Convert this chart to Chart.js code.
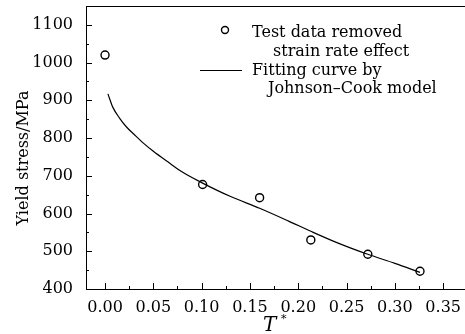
<!DOCTYPE html>
<html>
<head>
<meta charset="utf-8">
<script src="https://cdn.jsdelivr.net/npm/chart.js@4.4.0/dist/chart.umd.min.js"></script>
<style>
  html, body { margin: 0; padding: 0; background: #fff; }
  #wrap { width: 465px; height: 334px; }
</style>
</head>
<body>
<div id="wrap"><canvas id="jcChart" width="465" height="334"></canvas></div>
<script>
// measured points (strain rate effect removed)
const tStar = [0.00, 0.101, 0.160, 0.213, 0.272, 0.326];
const testStress = [1020, 677, 642, 530, 492, 447];

// Johnson-Cook fitted curve
const fitT = [0.003, 0.008, 0.015, 0.022, 0.030, 0.040, 0.050, 0.065, 0.080, 0.100, 0.130, 0.160, 0.190, 0.213, 0.240, 0.272, 0.300, 0.326];
const fitStress = [917, 882, 853, 830, 810, 786, 765, 737, 710, 682, 645, 614, 580, 553, 523, 492, 468, 444];

const xTickValues = [0, 0.05, 0.10, 0.15, 0.20, 0.25, 0.30, 0.35];
const yTickValues = [400, 500, 600, 700, 800, 900, 1000, 1100];

const legendLabels = [
    ['Test data removed', 'strain rate effect'],
    ['Fitting curve by', 'Johnson\u2013Cook model']
];
const yTitle = 'Yield stress/MPa';

const serif = '"DejaVu Serif", serif';

// inward ticks, open frame lines, axis titles and the legend
const framePlugin = {
    id: 'frame',
    afterDraw(chart) {
        const ctx = chart.ctx;
        const a = chart.chartArea;
        const xs = chart.scales.x, ys = chart.scales.y;
        ctx.save();
        ctx.strokeStyle = '#000';
        ctx.lineWidth = 1;
        ctx.beginPath();
        ctx.moveTo(a.left, a.top + 0.5);
        ctx.lineTo(465, a.top + 0.5);
        ctx.moveTo(a.right - 1, a.bottom + 0.5);
        ctx.lineTo(465, a.bottom + 0.5);
        // x ticks
        xTickValues.forEach(v => {
            const px = Math.round(xs.getPixelForValue(v)) + 0.5;
            ctx.moveTo(px, a.bottom); ctx.lineTo(px, a.bottom - 6);
            const pm = Math.round(xs.getPixelForValue(v + 0.025)) + 0.5;
            if (v + 0.025 < xs.max) { ctx.moveTo(pm, a.bottom); ctx.lineTo(pm, a.bottom - 3); }
        });
        // y ticks
        yTickValues.forEach(v => {
            const py = Math.round(ys.getPixelForValue(v)) + 0.5;
            ctx.moveTo(a.left, py); ctx.lineTo(a.left + 6, py);
            const pm = Math.round(ys.getPixelForValue(v + 50)) + 0.5;
            if (v + 50 < ys.max) { ctx.moveTo(a.left, pm); ctx.lineTo(a.left + 3, pm); }
        });
        ctx.stroke();

        // y title
        ctx.fillStyle = '#000';
        ctx.font = '16px ' + serif;
        ctx.textAlign = 'center';
        ctx.textBaseline = 'middle';
        ctx.save();
        ctx.translate(24, 158);
        ctx.rotate(-Math.PI / 2);
        ctx.fillText(yTitle, 0, 0);
        ctx.restore();

        // x title T*
        ctx.font = 'italic 20px ' + serif;
        ctx.textAlign = 'left';
        ctx.textBaseline = 'alphabetic';
        ctx.fillText('T', 263, 331);
        ctx.font = '11px ' + serif;
        ctx.fillText('*', 281, 322);

        // legend
        ctx.font = '16px ' + serif;
        ctx.beginPath();
        ctx.arc(225, 30, 3.5, 0, Math.PI * 2);
        ctx.lineWidth = 1.4;
        ctx.stroke();
        ctx.fillText(legendLabels[0][0], 252, 37);
        ctx.fillText(legendLabels[0][1], 273, 56);
        ctx.beginPath();
        ctx.moveTo(200, 70.5);
        ctx.lineTo(242, 70.5);
        ctx.lineWidth = 1;
        ctx.stroke();
        ctx.fillText(legendLabels[1][0], 252, 75);
        ctx.fillText(legendLabels[1][1], 268, 93);
        ctx.restore();
    }
};

new Chart('jcChart', {
    type: 'scatter',
    data: {
        datasets: [{
            label: legendLabels[0].join(' '),
            data: tStar.map((t, i) => ({x: t, y: testStress[i]})),
            pointStyle: 'circle',
            pointRadius: 4,
            borderWidth: 1.4,
            borderColor: '#000',
            backgroundColor: 'rgba(0,0,0,0)',
            showLine: false
        }, {
            label: legendLabels[1].join(' '),
            data: fitT.map((t, i) => ({x: t, y: fitStress[i]})),
            showLine: true,
            pointRadius: 0,
            borderColor: '#000',
            borderWidth: 1.2,
            cubicInterpolationMode: 'monotone'
        }]
    },
    options: {
        responsive: false,
        animation: false,
        layout: { padding: { top: 6, right: 0, left: 0, bottom: 0 } },
        plugins: { legend: { display: false }, tooltip: { enabled: false } },
        scales: {
            x: {
                type: 'linear',
                min: -0.0197,
                max: 0.367,
                grid: { display: false },
                border: { display: true, color: '#000', width: 1 },
                afterBuildTicks: s => { s.ticks = xTickValues.map(v => ({value: v})); },
                afterFit: s => { s.height = 45; s.paddingLeft = 0; s.paddingRight = 0; },
                ticks: {
                    color: '#000',
                    padding: 1,
                    font: { family: serif, size: 16 },
                    maxRotation: 0,
                    callback: v => v.toFixed(2)
                }
            },
            y: {
                min: 400,
                max: 1150,
                grid: { display: false },
                border: { display: true, color: '#000', width: 1 },
                afterBuildTicks: s => { s.ticks = yTickValues.map(v => ({value: v})); },
                afterFit: s => { s.width = 86; s.paddingTop = 0; s.paddingBottom = 0; },
                ticks: {
                    color: '#000',
                    padding: 5,
                    font: { family: serif, size: 16 },
                    callback: v => String(v)
                }
            }
        }
    },
    plugins: [framePlugin]
});
</script>
</body>
</html>
